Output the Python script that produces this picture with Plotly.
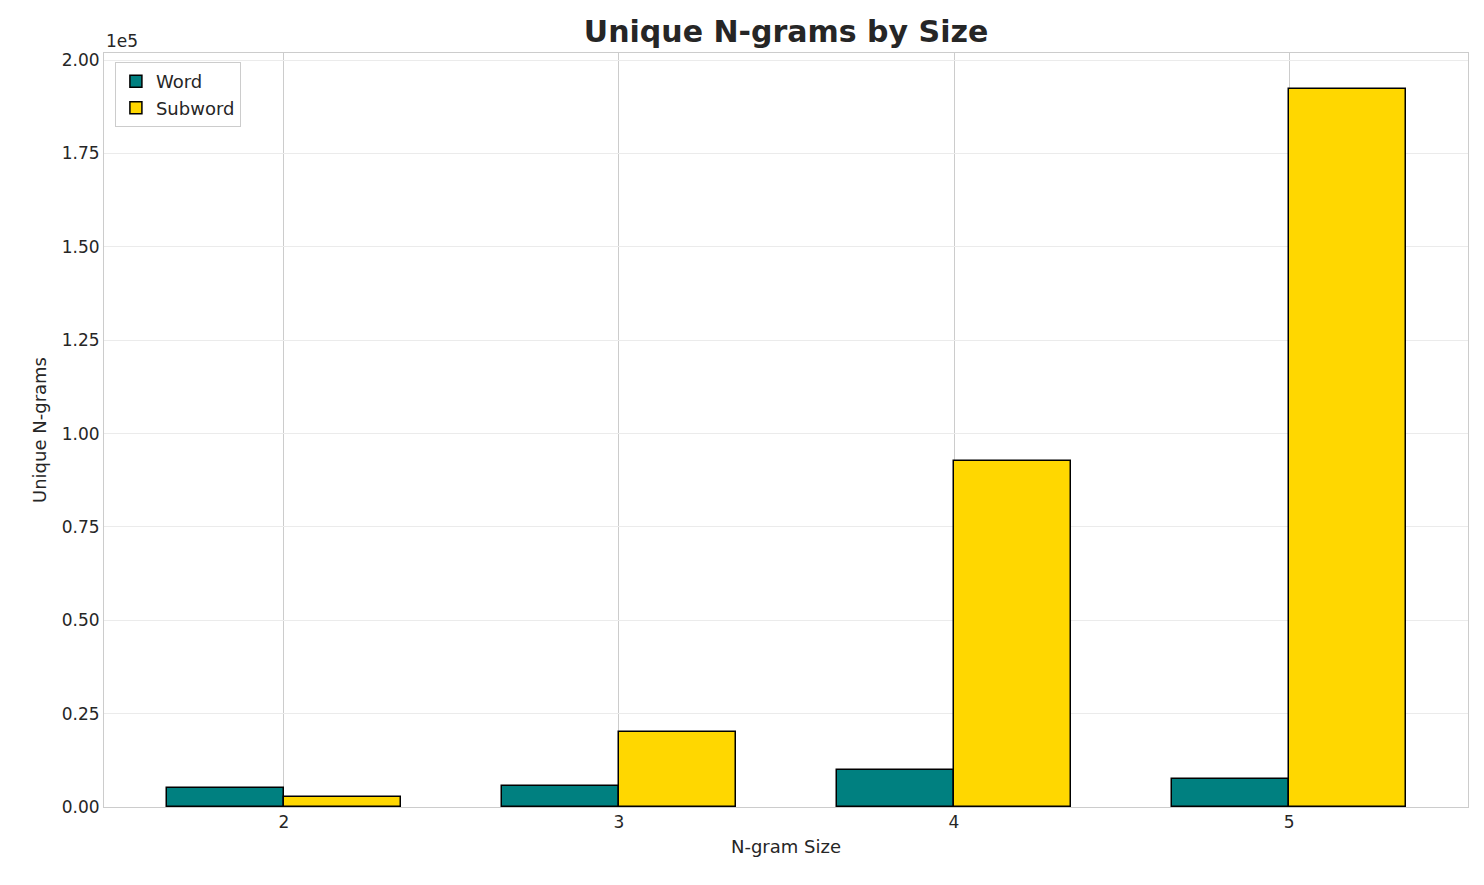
import plotly.graph_objects as go

sizes = [2, 3, 4, 5]
word = [5100, 5600, 9900, 7500]
subword = [2700, 20100, 92600, 192200]
ytick_vals = [0, 25000, 50000, 75000, 100000, 125000, 150000, 175000, 200000]
ytick_text = ["0.00", "0.25", "0.50", "0.75", "1.00", "1.25", "1.50", "1.75", "2.00"]

w = 0.35
fig = go.Figure()
fig.add_bar(x=sizes, y=word, name="Word", width=w, offset=-w,
            marker=dict(color="#008080", line=dict(color="black", width=1.5)))
fig.add_bar(x=sizes, y=subword, name="Subword", width=w, offset=0,
            marker=dict(color="#FFD700", line=dict(color="black", width=1.5)))

fig.update_layout(
    width=1468, height=869, plot_bgcolor="white", paper_bgcolor="white",
    margin=dict(l=96, r=8, t=45, b=70),
    font=dict(family="DejaVu Sans", size=17, color="#262626"),
    title=dict(text="<b>Unique N-grams by Size</b>", x=0.53, xanchor="center",
               y=0.985, yanchor="top", font=dict(size=30, color="#262626")),
    legend=dict(x=0.008, y=0.988, xanchor="left", yanchor="top", bordercolor="#cccccc",
                borderwidth=1, bgcolor="white", font=dict(size=18)),
    showlegend=True, bargap=0,
)
fig.update_xaxes(range=[1.463, 5.534], tickvals=sizes, ticktext=[str(s) for s in sizes],
                 showgrid=True, gridcolor="#cccccc", gridwidth=1,
                 showline=True, linecolor="#cccccc", mirror=True, ticks="",
                 title=dict(text="N-gram Size", font=dict(size=18), standoff=8), zeroline=False)
fig.update_yaxes(range=[0, 201900], tickvals=ytick_vals, ticktext=ytick_text,
                 showgrid=True, gridcolor="#ebebeb", gridwidth=1,
                 showline=True, linecolor="#cccccc", mirror=True, ticks="",
                 title=dict(text="Unique N-grams", font=dict(size=18), standoff=10), zeroline=False)
fig.add_annotation(text="1e5", xref="paper", yref="paper", x=0, y=1.0,
                   xanchor="left", yanchor="bottom", showarrow=False, font=dict(size=17))
fig.write_html("out.html")
